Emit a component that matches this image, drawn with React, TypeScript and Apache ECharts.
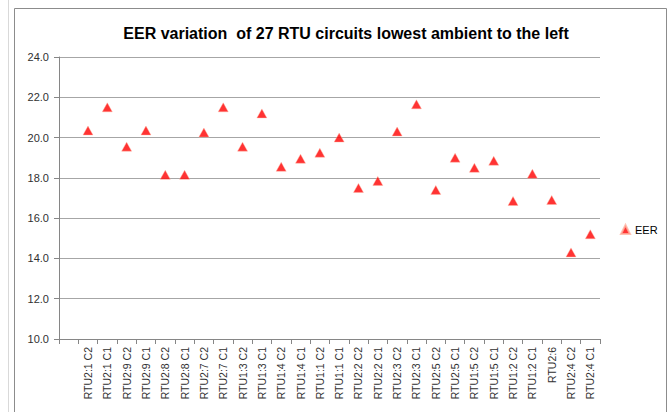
import React, { useEffect, useRef } from "react";
import * as echarts from "echarts";

const categories: string[] = [
  "",
  "RTU2:1 C2", "RTU2:1 C1", "RTU2:9 C2", "RTU2:9 C1", "RTU2:8 C2", "RTU2:8 C1",
  "RTU2:7 C2", "RTU2:7 C1", "RTU1:3 C2", "RTU1:3 C1", "RTU1:4 C2", "RTU1:4 C1",
  "RTU1:1 C2", "RTU1:1 C1", "RTU2:2 C2", "RTU2:2 C1", "RTU2:3 C2", "RTU2:3 C1",
  "RTU2:5 C2", "RTU2:5 C1", "RTU1:5 C2", "RTU1:5 C1", "RTU1:2 C2", "RTU1:2 C1",
  "RTU2:6", "RTU2:4 C2", "RTU2:4 C1",
];

const eerValues: (number | null)[] = [
  null,
  20.35, 21.5, 19.55, 20.35, 18.15, 18.15,
  20.25, 21.5, 19.55, 21.2, 18.55, 18.95,
  19.25, 20.0, 17.5, 17.85, 20.3, 21.65,
  17.4, 19.0, 18.5, 18.85, 16.85, 18.2,
  16.9, 14.3, 15.2,
];

const yTicks = { min: 10, max: 24, interval: 2 };
const seriesName = "EER";
const titleText = "EER variation  of 27 RTU circuits lowest ambient to the left";

export default function App() {
  const ref = useRef<HTMLDivElement>(null);
  useEffect(() => {
    if (!ref.current) return;
    const chart = echarts.init(ref.current, null, { renderer: "svg" });
    chart.setOption({
      animation: false,
      backgroundColor: "#ffffff",
      textStyle: { fontFamily: "Liberation Sans" },
      title: {
        text: titleText,
        left: 341,
        top: 20,
        textAlign: "center",
        textStyle: { fontSize: 16, fontWeight: "bold", color: "#000000", fontFamily: "Liberation Sans" },
      },
      graphic: [
        { type: "line", shape: { x1: 8.5, y1: 0, x2: 8.5, y2: 412 }, style: { stroke: "#d9d9d9", lineWidth: 1 } },
        { type: "rect", shape: { x: 14.5, y: 8.5, width: 652, height: 420 }, style: { fill: "none", stroke: "#8c8c8c", lineWidth: 1 } },
      ],
      legend: {
        data: [{ name: seriesName, icon: "triangle" }],
        left: 615,
        top: 219,
        itemWidth: 9,
        itemHeight: 9,
        itemGap: 4,
        textStyle: { fontSize: 11, color: "#000000" },
      },
      grid: { left: 59, right: 70, top: 57, bottom: 73, containLabel: false },
      xAxis: {
        type: "category",
        data: categories,
        boundaryGap: true,
        axisLine: { lineStyle: { color: "#868686" } },
        axisTick: { show: true, length: 5, lineStyle: { color: "#868686" } },
        axisLabel: { rotate: 90, fontSize: 10.5, color: "#303030", margin: 8, interval: 0 },
        splitLine: { show: false },
      },
      yAxis: {
        type: "value",
        min: yTicks.min,
        max: yTicks.max,
        interval: yTicks.interval,
        axisLine: { show: true, lineStyle: { color: "#868686" } },
        axisTick: { show: true, length: 5, lineStyle: { color: "#868686" } },
        axisLabel: { formatter: (v: number) => v.toFixed(1), fontSize: 11, color: "#303030", margin: 10 },
        splitLine: { show: true, lineStyle: { color: "#a6a6a6", width: 1 } },
      },
      series: [
        {
          name: seriesName,
          type: "scatter",
          data: eerValues,
          symbol: "triangle",
          symbolSize: [10, 9],
          itemStyle: { color: "#ff0000", borderColor: "#ffb3a0", borderWidth: 0.5 },
        },
      ],
    });
    return () => chart.dispose();
  }, []);
  return (
    <div
      ref={ref}
      style={{ position: "absolute", left: 0, top: 0, width: 670, height: 412 }}
    />
  );
}
